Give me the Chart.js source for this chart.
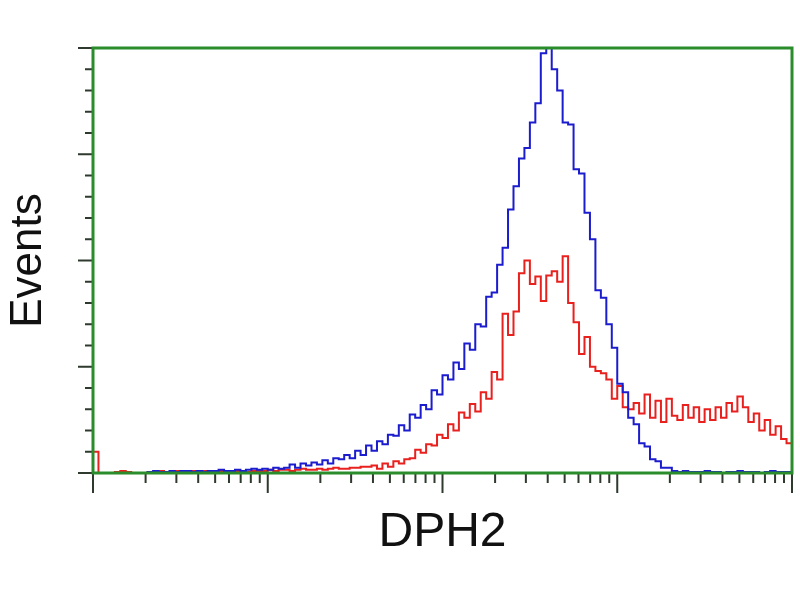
<!DOCTYPE html>
<html>
<head>
<meta charset="utf-8">
<script src="https://cdn.jsdelivr.net/npm/chart.js@4.4.1/dist/chart.umd.min.js"></script>
<style>
  html, body { margin: 0; padding: 0; background: #fff; }
  #wrap { width: 800px; height: 600px; }
</style>
</head>
<body>
<div id="wrap"><canvas id="chart" width="800" height="600"></canvas></div>
<script>
// histogram channels, x in log decades (0..4), 32 channels per decade
const blueCounts = [
  0, 0, 0, 0, 0, 0, 0, 0, 0, 0,
  1, 2, 1, 1, 2, 1, 2, 2, 1, 2, 1, 2, 2, 3, 2, 2, 3, 2, 3, 4, 3, 4, 3, 5, 4,
  5, 8, 5, 9, 7, 10, 8, 12, 9, 14,
  13, 17, 14, 21, 17, 26, 21, 30, 27, 36,
  35, 45, 40, 55, 52, 64, 60, 78, 74, 92,
  88, 104, 98, 122, 116, 140, 138, 166, 170, 196,
  212, 248, 270, 296, 306, 330, 348, 395, 400, 380,
  360, 330, 328, 286, 282, 245, 220, 172, 165, 140,
  118, 84, 76, 52, 46, 28, 25, 13, 11, 5,
  5, 2,
  1, 2, 1, 1, 1, 2, 1, 1, 0, 1, 1, 2, 1, 1, 1, 0, 1, 2, 1, 1, 1, 1
];
const redCounts = [
  20,
  0, 0, 0, 1, 2, 1, 0, 0, 0,
  1, 1, 2, 1, 1, 2, 1, 1, 2, 1, 2, 1, 1, 2, 2, 1, 2, 2, 1, 2, 2,
  2, 3, 2, 3, 3, 2, 3, 4, 3, 3, 4, 3, 4, 5, 4, 4, 5, 5, 6, 6,
  7, 4, 9, 6, 11, 9, 13, 14, 22, 19,
  27, 26, 36, 33, 46, 40, 57, 52, 65, 58,
  76, 70, 95, 88, 150, 130, 152, 188, 200, 178,
  185, 162, 186, 190, 180, 204, 160, 142, 112, 128,
  100, 96, 94, 88, 70, 82, 62, 60, 66, 56,
  74, 52, 68, 48, 70, 54, 50, 64, 52, 62,
  48, 60, 50, 62, 52, 66, 58, 72, 62, 48,
  56, 40, 50, 36, 44, 32, 28,
  8
];
const channelsPerDecade = 32;
const decades = [0, 1, 2, 3, 4];
const yMajorTicks = [0, 100, 200, 300, 400];
const yMinorTicks = [20, 40, 60, 80, 120, 140, 160, 180, 220, 240, 260, 280, 320, 340, 360, 380];

const toPoints = arr => arr.map((v, i) => ({ x: i / channelsPerDecade, y: v }));

// minor log ticks inside each decade (2..9)
const xMinorTicks = [];
decades.slice(0, -1).forEach(d => {
  for (let k = 2; k <= 9; k++) xMinorTicks.push(d + Math.log10(k));
});

const frame = {
  id: 'frame',
  afterDatasetsDraw(chart) {
    const { ctx, chartArea: a, scales: { x, y } } = chart;
    ctx.save();
    ctx.strokeStyle = '#2e3a2e';
    ctx.lineWidth = 2;
    ctx.beginPath();
    yMajorTicks.forEach(v => {
      const py = y.getPixelForValue(v);
      ctx.moveTo(a.left - 15, py); ctx.lineTo(a.left, py);
    });
    yMinorTicks.forEach(v => {
      const py = y.getPixelForValue(v);
      ctx.moveTo(a.left - 8, py); ctx.lineTo(a.left, py);
    });
    decades.forEach(v => {
      const px = x.getPixelForValue(v);
      ctx.moveTo(px, a.bottom); ctx.lineTo(px, a.bottom + 20);
    });
    xMinorTicks.forEach(v => {
      const px = x.getPixelForValue(v);
      ctx.moveTo(px, a.bottom); ctx.lineTo(px, a.bottom + 10);
    });
    ctx.stroke();
    ctx.strokeStyle = '#2b8c2b';
    ctx.lineWidth = 3;
    ctx.strokeRect(a.left, a.top, a.right - a.left, a.bottom - a.top);
    ctx.restore();
  }
};

new Chart(document.getElementById('chart'), {
  type: 'line',
  data: {
    datasets: [
      {
        label: 'DPH2 transfected',
        data: toPoints(blueCounts),
        borderColor: '#1c1ccf',
        borderWidth: 2,
        pointRadius: 0,
        stepped: true,
        fill: false
      },
      {
        label: 'Control',
        data: toPoints(redCounts),
        borderColor: '#e8201e',
        borderWidth: 2,
        pointRadius: 0,
        stepped: true,
        fill: false
      }
    ]
  },
  options: {
    responsive: false,
    animation: false,
    layout: { padding: { top: 48, right: 8, left: 0, bottom: 0 } },
    plugins: { legend: { display: false }, tooltip: { enabled: false } },
    scales: {
      x: {
        type: 'linear',
        min: 0,
        max: 4,
        grid: { display: false },
        border: { display: false },
        ticks: { display: false },
        title: {
          display: true,
          text: 'DPH2',
          color: '#111',
          font: { family: "'Liberation Sans', Arial, sans-serif", size: 48 },
          padding: { top: 0, bottom: 38 }
        },
        afterFit(scale) { scale.height = 127; }
      },
      y: {
        min: 0,
        max: 400,
        grid: { display: false },
        border: { display: false },
        ticks: { display: false },
        title: {
          display: true,
          text: 'Events',
          color: '#111',
          font: { family: "'Liberation Sans', Arial, sans-serif", size: 44 },
          padding: { top: 2, bottom: 0 }
        },
        afterFit(scale) { scale.width = 93; }
      }
    }
  },
  plugins: [frame]
});
</script>
</body>
</html>
